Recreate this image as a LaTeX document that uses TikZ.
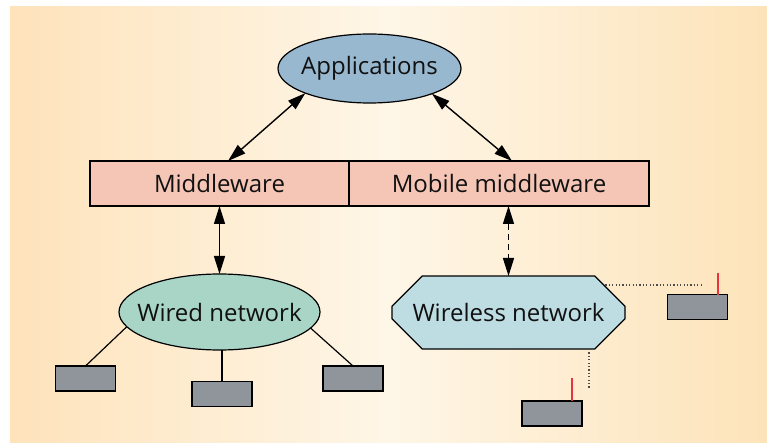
\documentclass[tikz,border=0pt]{standalone}
\usepackage{fontspec}
\setmainfont{Open Sans}
\usetikzlibrary{arrows.meta,shapes.geometric,shapes.misc}
\definecolor{bgL}{HTML}{FEE3BB}
\definecolor{bgM}{HTML}{FEF6E7}
\definecolor{bgR}{HTML}{FDE3B9}
\definecolor{appc}{HTML}{98B8CF}
\definecolor{mwc}{HTML}{F5C6B6}
\definecolor{wiredc}{HTML}{A8D5C6}
\definecolor{wlc}{HTML}{BEDDE3}
\definecolor{devc}{HTML}{8F959B}
\definecolor{antc}{HTML}{E8323C}
\definecolor{txt}{HTML}{111111}
\begin{document}
\begin{tikzpicture}[x=1pt,y=-1pt,
  every node/.style={font=\fontsize{24}{28}\selectfont, text=txt},
  ell/.style={ellipse, draw=black, line width=1.2pt, inner sep=0pt, outer sep=0pt},
  mwbox/.style={rectangle, draw=black, line width=1.2pt, fill=mwc, minimum height=45pt, inner sep=0pt, outer sep=0pt},
  device/.style={rectangle, draw=black, line width=1.4pt, fill=devc, minimum width=60pt, minimum height=25pt, inner sep=0pt, outer sep=0pt},
  arr/.style={line width=1.4pt, {Triangle[length=18pt,width=11pt]}-{Triangle[length=18pt,width=11pt]}},
  wire/.style={line width=1.2pt},
  dots/.style={line width=1.2pt, draw=black!70, dash pattern=on 1.2pt off 2.2pt},
  ant/.style={line width=1.2pt, draw=antc}]
\useasboundingbox (0,0) rectangle (767,443);
\shade[left color=bgL, right color=bgR, middle color=bgM] (10,7) rectangle (767,443);

% nodes
\node[ell, fill=appc, minimum width=183pt, minimum height=69pt, label={center:Applications}] (app) at (369.5,68.5) {};
\node[mwbox, minimum width=259pt] (mw) at (219.5,183.5) {Middleware};
\node[mwbox, minimum width=300pt] (mmw) at (499,183.5) {Mobile middleware};
\node[ell, fill=wiredc, minimum width=201pt, minimum height=76pt, label={center:Wired network}] (wired) at (219.5,312) {};
\node[chamfered rectangle, chamfered rectangle xsep=22pt, chamfered rectangle ysep=21pt,
      draw=black, line width=1.2pt, fill=wlc, minimum width=233pt, minimum height=73pt, inner sep=0pt, outer sep=0pt] (wl) at (508.5,312.5) {Wireless network};

\node[device] (d1) at (85.5,378.5) {};
\node[device] (d2) at (222,394) {};
\node[device] (d3) at (353,378.5) {};
\node[device] (d4) at (697.5,307) {};
\node[device] (d5) at (552,413.5) {};

% connectors
\draw[arr] (app.201.7) -- ([xshift=8.5pt]mw.north);
\draw[arr] (app.338.6) -- ([xshift=13pt]mmw.north);
\draw[arr] (mw.south) -- (wired.north);
\draw[arr, dash pattern=on 6pt off 4pt] (wl.north |- mmw.south) -- (wl.north);

\draw[wire] (wired.189.2) -- (d1.north);
\draw[wire] (d2.north |- wired.south) -- (d2.north);
\draw[wire] (wired.350.9) -- (d3.north);

\coordinate (w1end) at (703,285);
\coordinate (w2end) at (589,389);
\draw[dots] (w1end -| wl.15) -- (w1end);
\draw[dots] (w2end |- wl.south) -- (w2end);

\draw[ant] ([xshift=20.5pt]d4.north) -- ++(0,-22);
\draw[ant] ([xshift=20pt]d5.north) -- ++(0,-23);
\end{tikzpicture}
\end{document}
